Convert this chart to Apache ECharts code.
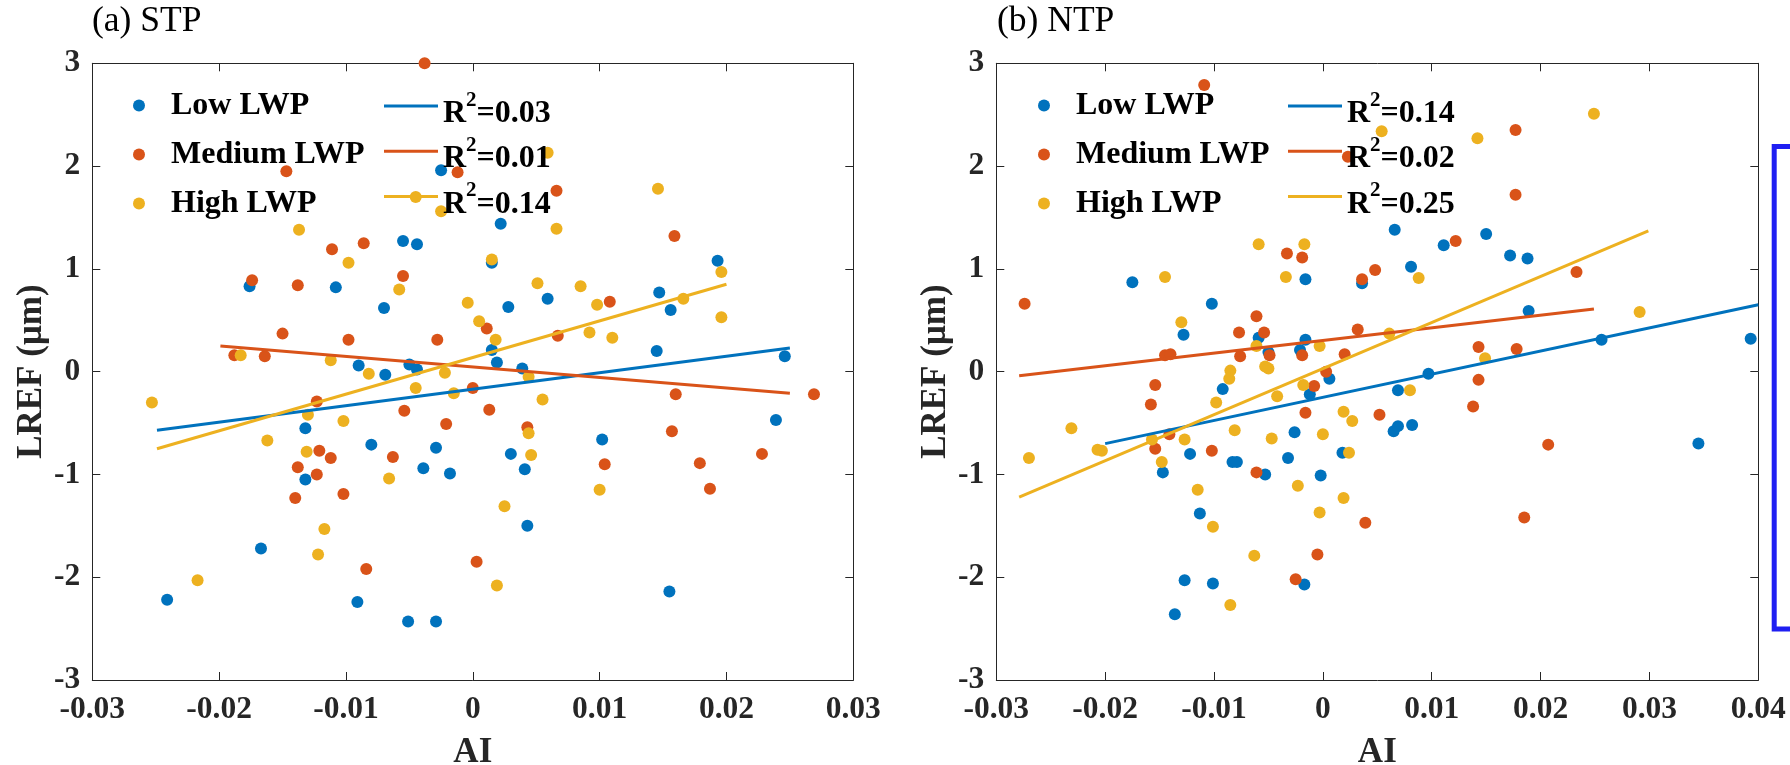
<!DOCTYPE html>
<html>
<head>
<meta charset="utf-8">
<script src="https://cdn.jsdelivr.net/npm/echarts@6/dist/echarts.min.js"></script>
<style>html,body{margin:0;padding:0;background:#fff}#c{width:1790px;height:765px}</style>
</head>
<body>
<div id="c"></div>
<script>
// ---------- DATA ----------
var seriesNames = ['Low LWP', 'Medium LWP', 'High LWP'];
var panelTitles = ['(a) STP', '(b) NTP'];
var r2Labels = { a_low: '0.03', a_med: '0.01', a_high: '0.14', b_low: '0.14', b_med: '0.02', b_high: '0.25' };

var stpLow = [[-0.0025,1.96],[-0.0055,1.27],[-0.0044,1.24],[-0.0176,0.83],[-0.0108,0.82],[-0.0070,0.62],[-0.0090,0.06],[-0.0069,-0.03],[-0.0050,0.07],[-0.0044,0.02],[0.0022,1.44],[0.0015,1.06],[0.0193,1.08],[0.0059,0.71],[0.0147,0.77],[0.0028,0.63],[0.0156,0.60],[0.0015,0.21],[0.0145,0.20],[0.0019,0.09],[0.0246,0.15],[0.0039,0.03],[-0.0132,-0.55],[-0.0080,-0.71],[-0.0029,-0.74],[-0.0039,-0.94],[-0.0018,-0.99],[-0.0132,-1.05],[-0.0167,-1.72],[-0.0241,-2.22],[-0.0091,-2.24],[-0.0051,-2.43],[-0.0029,-2.43],[0.0239,-0.47],[0.0102,-0.66],[0.0030,-0.80],[0.0041,-0.95],[0.0043,-1.50],[0.0155,-2.14]];
var stpMed = [[-0.0038,3.0],[-0.0147,1.95],[-0.0111,1.19],[-0.0086,1.25],[-0.0174,0.89],[-0.0138,0.84],[-0.0055,0.93],[-0.0150,0.37],[-0.0098,0.31],[-0.0028,0.31],[-0.0188,0.16],[-0.0164,0.15],[-0.0123,-0.29],[-0.0012,1.94],[0.0066,1.76],[0.0159,1.32],[0.0108,0.68],[0.0011,0.42],[0.0067,0.35],[0.0000,-0.16],[0.0160,-0.22],[0.0269,-0.22],[-0.0054,-0.38],[-0.0021,-0.51],[-0.0121,-0.77],[-0.0112,-0.84],[-0.0063,-0.83],[-0.0138,-0.93],[-0.0123,-1.00],[-0.0102,-1.19],[-0.0140,-1.23],[-0.0084,-1.92],[0.0013,-0.37],[0.0043,-0.54],[0.0157,-0.58],[0.0228,-0.80],[0.0104,-0.90],[0.0179,-0.89],[0.0187,-1.14],[0.0003,-1.85]];
var stpHigh = [[-0.0045,1.70],[-0.0025,1.56],[-0.0137,1.38],[-0.0098,1.06],[-0.0058,0.80],[-0.0183,0.16],[-0.0112,0.11],[-0.0082,-0.02],[-0.0022,-0.01],[-0.0045,-0.16],[-0.0253,-0.30],[0.0059,2.13],[0.0146,1.78],[0.0066,1.39],[0.0015,1.09],[0.0196,0.97],[0.0051,0.86],[0.0085,0.83],[0.0166,0.71],[-0.0004,0.67],[0.0098,0.65],[0.0196,0.53],[0.0005,0.49],[0.0092,0.38],[0.0110,0.33],[0.0018,0.31],[0.0044,-0.05],[-0.0015,-0.21],[0.0055,-0.27],[-0.0130,-0.42],[-0.0102,-0.48],[-0.0162,-0.67],[-0.0131,-0.78],[-0.0066,-1.04],[-0.0117,-1.53],[-0.0122,-1.78],[-0.0217,-2.03],[0.0044,-0.60],[0.0046,-0.81],[0.0100,-1.15],[0.0025,-1.31],[0.0019,-2.08]];

var ntpLow = [[-0.0175,0.87],[-0.0016,0.90],[-0.0102,0.66],[-0.0128,0.36],[-0.0059,0.33],[-0.0016,0.31],[-0.0050,0.19],[-0.0021,0.21],[0.0006,-0.07],[-0.0092,-0.17],[-0.0012,-0.22],[-0.0026,-0.59],[-0.0122,-0.80],[-0.0032,-0.84],[0.0018,-0.79],[-0.0083,-0.88],[-0.0079,-0.88],[-0.0147,-0.98],[-0.0053,-1.00],[-0.0002,-1.01],[-0.0113,-1.38],[-0.0127,-2.03],[-0.0101,-2.06],[-0.0017,-2.07],[-0.0136,-2.36],[0.0066,1.38],[0.0150,1.34],[0.0111,1.23],[0.0172,1.13],[0.0188,1.10],[0.0081,1.02],[0.0036,0.86],[0.0189,0.59],[0.0256,0.31],[0.0393,0.32],[0.0097,-0.02],[0.0069,-0.18],[0.0065,-0.58],[0.0069,-0.53],[0.0082,-0.52],[0.0345,-0.70]];
var ntpMed = [[-0.0109,2.79],[0.0023,2.09],[-0.0033,1.15],[-0.0019,1.11],[-0.0274,0.66],[-0.0061,0.54],[-0.0077,0.38],[-0.0054,0.38],[-0.0145,0.16],[-0.0140,0.17],[-0.0076,0.15],[-0.0049,0.16],[-0.0019,0.16],[0.0020,0.17],[0.0003,0.00],[-0.0154,-0.13],[-0.0008,-0.14],[-0.0158,-0.32],[-0.0016,-0.40],[-0.0141,-0.61],[-0.0154,-0.75],[-0.0102,-0.77],[-0.0061,-0.98],[-0.0005,-1.78],[-0.0025,-2.02],[0.0177,2.35],[0.0177,1.72],[0.0122,1.27],[0.0048,0.99],[0.0036,0.90],[0.0233,0.97],[0.0032,0.41],[0.0143,0.24],[0.0178,0.22],[0.0143,-0.08],[0.0138,-0.34],[0.0052,-0.42],[0.0207,-0.71],[0.0039,-1.47],[0.0185,-1.42]];
var ntpHigh = [[-0.0059,1.24],[-0.0017,1.24],[-0.0145,0.92],[-0.0034,0.92],[-0.0130,0.48],[-0.0061,0.25],[-0.0003,0.25],[-0.0053,0.05],[-0.0050,0.03],[-0.0085,0.01],[-0.0086,-0.07],[-0.0018,-0.13],[-0.0042,-0.24],[-0.0098,-0.30],[0.0019,-0.39],[0.0027,-0.48],[-0.0231,-0.55],[0.0000,-0.61],[-0.0081,-0.57],[-0.0157,-0.66],[-0.0127,-0.66],[-0.0047,-0.65],[-0.0270,-0.84],[-0.0207,-0.76],[-0.0203,-0.77],[0.0024,-0.79],[-0.0148,-0.88],[-0.0023,-1.11],[-0.0115,-1.15],[0.0019,-1.23],[-0.0003,-1.37],[-0.0101,-1.51],[-0.0063,-1.79],[-0.0085,-2.27],[0.0054,2.34],[0.0142,2.27],[0.0249,2.51],[0.0088,0.91],[0.0291,0.58],[0.0061,0.37],[0.0149,0.13],[0.0080,-0.18]];

// regression line end points
var stpFitLow  = [[-0.0249,-0.57],[0.0250,0.23]];
var stpFitMed  = [[-0.0199,0.25],[0.0250,-0.21]];
var stpFitHigh = [[-0.0249,-0.75],[0.0200,0.85]];
var ntpFitLow  = [[-0.0200,-0.70],[0.0400,0.65]];
var ntpFitMed  = [[-0.0279,-0.04],[0.0249,0.61]];
var ntpFitHigh = [[-0.0279,-1.22],[0.0299,1.37]];

var xRanges = [[-0.03, 0.03], [-0.03, 0.04]];
var yRange = [-3, 3];

// ---------- STYLE ----------
var FONT = "'Liberation Serif', 'Times New Roman', serif";
var colors = ['#0072BD', '#D95319', '#EDB120'];
var AX = '#262626';
var grids = [
  { left: 92.3, top: 63.3, width: 761, height: 616.7, containLabel: false, outerBoundsMode: 'none' },
  { left: 996.3, top: 63.3, width: 762, height: 616.7, containLabel: false, outerBoundsMode: 'none' }
];

function fmt(v) { return String(+(+v).toFixed(2)); }

var xAxes = [], yAxes = [];
[0, 1].forEach(function (g) {
  var base = {
    gridIndex: g, type: 'value', min: xRanges[g][0], max: xRanges[g][1], interval: 0.01,
    axisLine: { onZero: false, lineStyle: { color: AX, width: 1 } },
    axisTick: { inside: true, length: 8, lineStyle: { color: AX, width: 1 } },
    splitLine: { show: false }
  };
  xAxes.push(Object.assign({}, base, {
    position: 'bottom', name: 'AI', nameLocation: 'middle', nameGap: 55,
    nameTextStyle: { fontSize: 35, fontWeight: 'bold', fontFamily: FONT, color: AX },
    axisLabel: { margin: 14, fontSize: 31.5, fontWeight: 'bold', fontFamily: FONT, color: AX, formatter: fmt }
  }));
  xAxes.push(Object.assign({}, base, { position: 'top', axisLabel: { show: false } }));
  var ybase = {
    gridIndex: g, type: 'value', min: yRange[0], max: yRange[1], interval: 1,
    axisLine: { onZero: false, lineStyle: { color: AX, width: 1 } },
    axisTick: { inside: true, length: 8, lineStyle: { color: AX, width: 1 } },
    splitLine: { show: false }
  };
  yAxes.push(Object.assign({}, ybase, {
    position: 'left', name: 'LREF (\u03bcm)', nameLocation: 'middle', nameGap: 43, nameRotate: 90,
    nameTextStyle: { fontSize: 35, fontWeight: 'bold', fontFamily: FONT, color: AX },
    axisLabel: { margin: 12, fontSize: 31.5, fontWeight: 'bold', fontFamily: FONT, color: AX, formatter: fmt }
  }));
  yAxes.push(Object.assign({}, ybase, { position: 'right', axisLabel: { show: false } }));
});

var scatterData = [[stpLow, stpMed, stpHigh], [ntpLow, ntpMed, ntpHigh]];
var fitData = [[stpFitLow, stpFitMed, stpFitHigh], [ntpFitLow, ntpFitMed, ntpFitHigh]];
var fitKeys = [['a_low', 'a_med', 'a_high'], ['b_low', 'b_med', 'b_high']];

var series = [];
[0, 1].forEach(function (g) {
  for (var i = 0; i < 3; i++) {
    series.push({
      type: 'scatter', name: seriesNames[i], xAxisIndex: g * 2, yAxisIndex: g * 2,
      data: scatterData[g][i], symbol: 'circle', symbolSize: 12,
      itemStyle: { color: colors[i], opacity: 1 }
    });
  }
  for (var j = 0; j < 3; j++) {
    series.push({
      type: 'line', name: fitKeys[g][j], xAxisIndex: g * 2, yAxisIndex: g * 2,
      data: fitData[g][j], symbol: 'none', showSymbol: false,
      lineStyle: { color: colors[j], width: 3 }, itemStyle: { color: colors[j] }
    });
  }
});

var legendText = { fontSize: 32, fontWeight: 'bold', fontFamily: FONT, color: '#000' };
var legends = [];
[0, 1].forEach(function (g) {
  var left0 = [133, 1038][g];
  var left1 = [384, 1288][g];
  legends.push({
    orient: 'vertical', left: left0, top: 89.4, padding: 0, itemGap: 17.1,
    itemWidth: 54, itemHeight: 12, icon: 'circle', selectedMode: false,
    data: seriesNames.slice(),
    textStyle: legendText
  });
  legends.push({
    orient: 'vertical', left: left1, top: 82, padding: 0, itemGap: -2.8,
    itemWidth: 54, itemHeight: 3, icon: 'rect', selectedMode: false,
    data: fitKeys[g].slice(),
    formatter: function (name) { return '{r|R}{s|2}{r|=' + r2Labels[name] + '}'; },
    textStyle: Object.assign({}, legendText, {
      rich: {
        r: { fontSize: 32, fontWeight: 'bold', fontFamily: FONT, color: '#000', lineHeight: 32, padding: [16, 0, 0, 0] },
        s: { fontSize: 21, fontWeight: 'bold', fontFamily: FONT, color: '#000', lineHeight: 21, verticalAlign: 'top' }
      }
    })
  });
});

var option = {
  animation: false,
  backgroundColor: '#fff',
  title: [
    { text: panelTitles[0], left: 92, top: 4, padding: 0, textStyle: { fontSize: 35.5, fontWeight: 'normal', fontFamily: FONT, color: '#000' } },
    { text: panelTitles[1], left: 997, top: 4, padding: 0, textStyle: { fontSize: 35.5, fontWeight: 'normal', fontFamily: FONT, color: '#000' } }
  ],
  grid: grids,
  xAxis: xAxes,
  yAxis: yAxes,
  legend: legends,
  series: series,
  graphic: [{
    type: 'polyline', silent: true,
    shape: { points: [[1795, 146.5], [1774.2, 146.5], [1774.2, 629], [1795, 629]] },
    style: { stroke: '#1f1ff2', lineWidth: 5, fill: null }
  }]
};

var chart = echarts.init(document.getElementById('c'), null, { renderer: 'canvas' });
chart.setOption(option);
</script>
</body>
</html>
